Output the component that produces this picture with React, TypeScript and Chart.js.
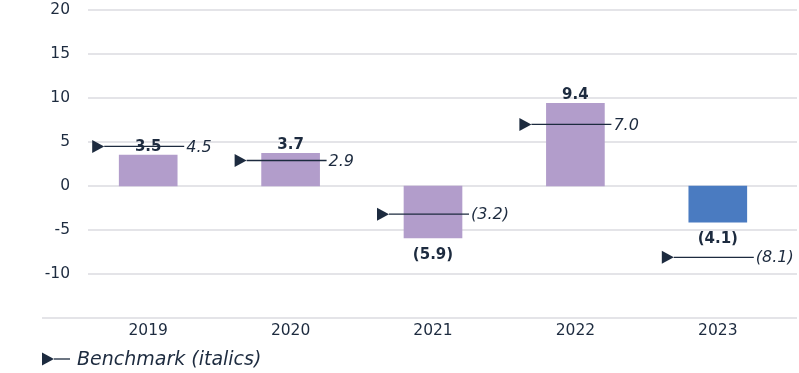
import React, { useEffect, useRef } from 'react';
import { Chart, registerables } from 'chart.js';

Chart.register(...registerables);

const categories = ['2019', '2020', '2021', '2022', '2023'];
const values = [3.5, 3.7, -5.9, 9.4, -4.1];
const benchmarks = [4.5, 2.9, -3.2, 7.0, -8.1];
const barColors = ['#b29dcb', '#b29dcb', '#b29dcb', '#b29dcb', '#4a7bc1'];
const yTickValues = [20, 15, 10, 5, 0, -5, -10];
const yMin = -15;
const yMax = 20;
const legendLabel = 'Benchmark (italics)';

const NAVY = '#1d2b3f';
const FONT = '"DejaVu Sans", sans-serif';

const fmt = (v: number) => (v < 0 ? `(${Math.abs(v).toFixed(1)})` : v.toFixed(1));

function triangle(ctx: CanvasRenderingContext2D, left: number, cy: number) {
  ctx.beginPath();
  ctx.moveTo(left, cy - 6.5);
  ctx.lineTo(left + 12, cy);
  ctx.lineTo(left, cy + 6.5);
  ctx.closePath();
  ctx.fill();
}

const overlay = {
  id: 'overlay',
  beforeDatasetsDraw(chart: any) {
    const { ctx, chartArea } = chart;
    const y = chart.scales.y;
    ctx.save();
    ctx.strokeStyle = '#e4e4e8';
    ctx.lineWidth = 2;
    yTickValues.forEach((v) => {
      const py = Math.round(y.getPixelForValue(v));
      ctx.beginPath();
      ctx.moveTo(chartArea.left + 11, py);
      ctx.lineTo(chartArea.right + 8, py);
      ctx.stroke();
    });
    const pb = Math.round(y.getPixelForValue(yMin));
    ctx.beginPath();
    ctx.moveTo(42, pb);
    ctx.lineTo(chartArea.right + 8, pb);
    ctx.stroke();
    ctx.restore();
  },
  afterDatasetsDraw(chart: any) {
    const { ctx } = chart;
    const x = chart.scales.x;
    const y = chart.scales.y;
    const meta = chart.getDatasetMeta(0);
    ctx.save();
    ctx.fillStyle = NAVY;
    ctx.strokeStyle = NAVY;
    ctx.lineWidth = 1.3;

    // benchmarks
    ctx.font = `oblique 16px ${FONT}`;
    ctx.textAlign = 'left';
    ctx.textBaseline = 'middle';
    benchmarks.forEach((b, i) => {
      const cx = x.getPixelForValue(i);
      const py = y.getPixelForValue(b);
      triangle(ctx, cx - 56, py);
      ctx.beginPath();
      ctx.moveTo(cx - 44, py);
      ctx.lineTo(cx + 36, py);
      ctx.stroke();
      ctx.fillText(fmt(b), cx + 38, py + 1);
    });

    // value labels
    ctx.font = `bold 15px ${FONT}`;
    ctx.textAlign = 'center';
    ctx.textBaseline = 'alphabetic';
    values.forEach((v, i) => {
      const bar = meta.data[i];
      if (v >= 0) ctx.fillText(fmt(v), bar.x, bar.y - 4);
      else ctx.fillText(fmt(v), bar.x, bar.y + 21);
    });

    // legend
    const ly = 359;
    triangle(ctx, 42, ly);
    ctx.beginPath();
    ctx.moveTo(54, ly);
    ctx.lineTo(70, ly);
    ctx.stroke();
    ctx.font = `oblique 19px ${FONT}`;
    ctx.textAlign = 'left';
    ctx.textBaseline = 'middle';
    ctx.fillText(legendLabel, 77, ly + 1);
    ctx.restore();
  },
};

export default function App() {
  const ref = useRef<HTMLCanvasElement>(null);
  useEffect(() => {
    if (!ref.current) return;
    const chart = new Chart(ref.current, {
      type: 'bar',
      data: {
        labels: categories,
        datasets: [
          {
            data: values,
            backgroundColor: barColors,
            borderWidth: 0,
            barThickness: 58,
          },
        ],
      },
      options: {
        responsive: false,
        animation: false,
        devicePixelRatio: 1,
        layout: { padding: { top: 0, right: 10, bottom: 0, left: 0 } },
        plugins: { legend: { display: false }, tooltip: { enabled: false } },
        scales: {
          x: {
            grid: { display: false, drawTicks: false },
            border: { display: false },
            ticks: { color: NAVY, font: { family: FONT, size: 15.5 }, padding: 4 },
            afterFit: (s: any) => {
              s.height = 55;
            },
          },
          y: {
            min: yMin,
            max: yMax,
            grid: { display: false, drawTicks: false },
            border: { display: false },
            ticks: {
              stepSize: 5,
              color: NAVY,
              font: { family: FONT, size: 15.5 },
              padding: 7,
              callback: (v: any) => (yTickValues.includes(Number(v)) ? String(v) : ''),
            },
            afterFit: (s: any) => {
              s.width = 77;
              s.paddingTop = 10;
              s.paddingBottom = 0;
            },
          },
        },
      },
      plugins: [overlay],
    });
    return () => chart.destroy();
  }, []);
  return (
    <div style={{ position: 'absolute', left: 0, top: 0, width: 799, height: 373, background: '#fff' }}>
      <canvas ref={ref} width={799} height={373} />
    </div>
  );
}
